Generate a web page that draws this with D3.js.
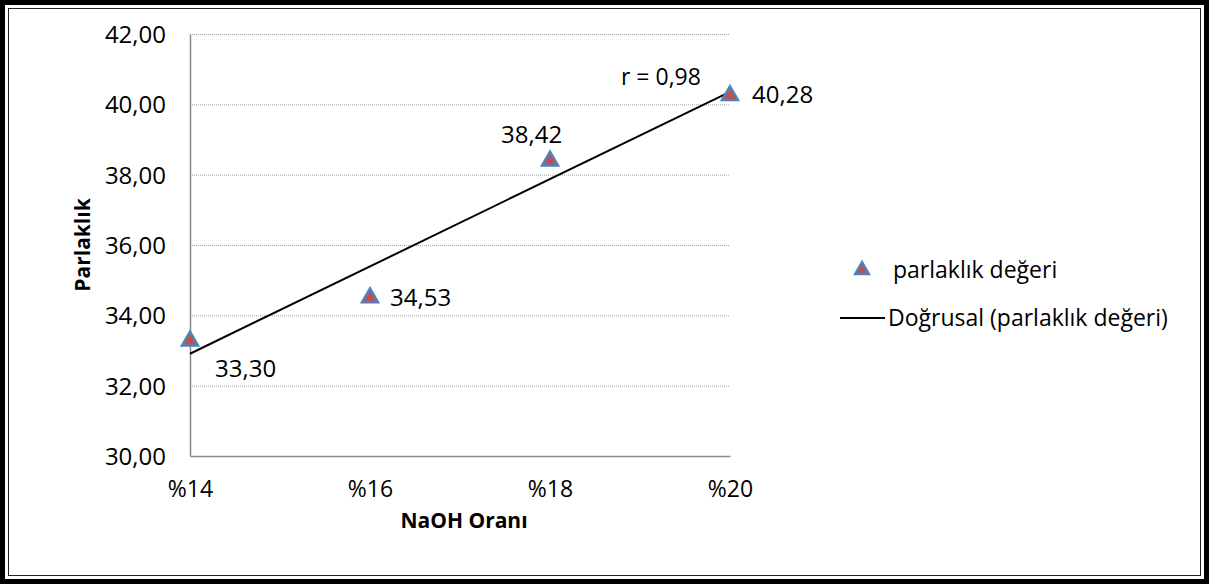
<!DOCTYPE html>
<html>
<head>
<meta charset="utf-8">
<script src="https://cdn.jsdelivr.net/npm/d3@7"></script>
<style>
  html, body { margin: 0; padding: 0; background: #fff; }
  svg text { font-family: "Open Sans", "Liberation Sans", sans-serif; fill: #000; }
</style>
</head>
<body>
<svg id="chart" width="1209" height="584"></svg>
<script>
// NaOH ratio categories and measured brightness values
const categories = ["%14", "%16", "%18", "%20"];
const brightness = [33.30, 34.53, 38.42, 40.28];
const yTicks = [30, 32, 34, 36, 38, 40, 42];
const rLabel = "r = 0,98";
const seriesName = "parlaklık değeri";
const trendName = "Doğrusal (parlaklık değeri)";

const svg = d3.select("#chart");
const W = 1209, H = 584;

// double frame: thick outer, thin inner
svg.append("rect").attr("x", 2.5).attr("y", 2.5).attr("width", W - 5).attr("height", H - 5)
  .attr("fill", "#fff").attr("stroke", "#000").attr("stroke-width", 5);
svg.append("rect").attr("x", 8.5).attr("y", 8.5).attr("width", W - 17).attr("height", H - 17)
  .attr("fill", "none").attr("stroke", "#222").attr("stroke-width", 1);

const plot = { left: 190, right: 730, top: 34, bottom: 456 };

const x = d3.scalePoint().domain(categories).range([plot.left, plot.right]);
const y = d3.scaleLinear().domain([30, 42]).range([plot.bottom, plot.top]);

const fmt = v => d3.format(".2f")(v).replace(".", ",");

// horizontal gridlines
svg.append("g").selectAll("line").data(yTicks.filter(t => t > 30)).join("line")
  .attr("x1", plot.left).attr("x2", plot.right)
  .attr("y1", d => y(d) + 0.5).attr("y2", d => y(d) + 0.5)
  .attr("stroke", "#a6a6a6").attr("stroke-width", 1).attr("stroke-dasharray", "1,1");

// y axis
const yAxis = svg.append("g").attr("transform", `translate(${plot.left},0)`)
  .call(d3.axisLeft(y).tickValues(yTicks).tickFormat(fmt).tickSize(0).tickPadding(24));
yAxis.select(".domain").attr("stroke", "#888").attr("stroke-width", 1.5);
yAxis.selectAll("text").attr("font-size", 24).attr("font-family", "Open Sans").attr("fill", "#000").attr("dy", "0.35em");

// x axis
const xAxis = svg.append("g").attr("transform", `translate(0,${plot.bottom})`)
  .call(d3.axisBottom(x).tickSize(0).tickPadding(25));
xAxis.select(".domain").attr("stroke", "#888").attr("stroke-width", 1.5);
xAxis.selectAll("text").attr("font-size", 23).attr("font-family", "Open Sans").attr("fill", "#000");

// axis titles
svg.append("text").attr("x", 464).attr("y", 528).attr("text-anchor", "middle")
  .attr("font-size", 21).attr("font-weight", "bold").text("NaOH Oranı");
svg.append("text").attr("transform", "translate(90,245) rotate(-90)").attr("text-anchor", "middle")
  .attr("font-size", 21).attr("font-weight", "bold").text("Parlaklık");

// least-squares trend line over category index
const n = brightness.length;
const xi = d3.range(n);
const mx = d3.mean(xi), my = d3.mean(brightness);
const slope = d3.sum(xi, i => (i - mx) * (brightness[i] - my)) / d3.sum(xi, i => (i - mx) ** 2);
const intercept = my - slope * mx;
svg.append("line")
  .attr("x1", x(categories[0])).attr("y1", y(intercept))
  .attr("x2", x(categories[n - 1])).attr("y2", y(intercept + slope * (n - 1)))
  .attr("stroke", "#000").attr("stroke-width", 2);

// triangle markers
const tri = d3.symbol().type(d3.symbolTriangle).size(110);
svg.append("g").selectAll("path").data(brightness).join("path")
  .attr("d", tri)
  .attr("transform", (d, i) => `translate(${x(categories[i])},${y(d) + 1})`)
  .attr("fill", "#C0504D").attr("stroke", "#4F81BD").attr("stroke-width", 2.5);

// value labels
const labelOffsets = [[25, 37, "start"], [20, 9, "start"], [-49, -17, "start"], [22, 9, "start"]];
svg.append("g").selectAll("text").data(brightness).join("text")
  .attr("x", (d, i) => x(categories[i]) + labelOffsets[i][0])
  .attr("y", (d, i) => y(d) + labelOffsets[i][1])
  .attr("text-anchor", (d, i) => labelOffsets[i][2])
  .attr("font-size", 24).text(fmt);

// correlation label
svg.append("text").attr("x", 621).attr("y", 85).attr("font-size", 23).text(rLabel);

// legend
const lg = svg.append("g");
lg.append("path").attr("d", tri.size(80)())
  .attr("transform", "translate(862,270)")
  .attr("fill", "#C0504D").attr("stroke", "#4F81BD").attr("stroke-width", 2.5);
lg.append("text").attr("x", 893).attr("y", 278).attr("font-size", 23).text(seriesName);
lg.append("line").attr("x1", 840).attr("x2", 885).attr("y1", 318).attr("y2", 318)
  .attr("stroke", "#000").attr("stroke-width", 2);
lg.append("text").attr("x", 888).attr("y", 326).attr("font-size", 23).text(trendName);
</script>
</body>
</html>
